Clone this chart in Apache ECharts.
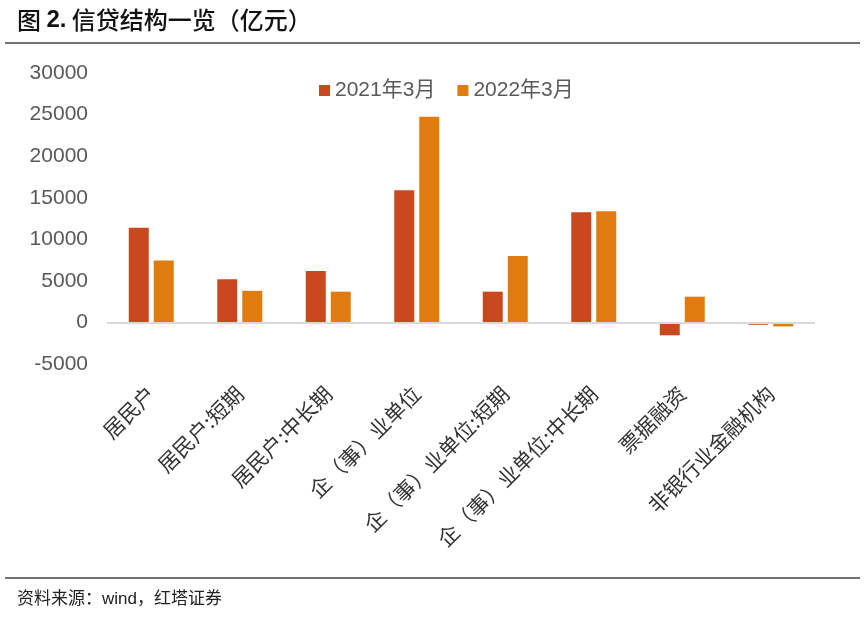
<!DOCTYPE html>
<html><head><meta charset="utf-8">
<script src="https://cdn.jsdelivr.net/npm/echarts@6/dist/echarts.min.js"></script>
<style>html,body{margin:0;padding:0;background:#fff}#c{width:865px;height:625px}</style>
</head><body><div id="c"></div>
<script>
var categories = ['居民户','居民户:短期','居民户:中长期','企（事）业单位','企（事）业单位:短期','企（事）业单位:中长期','票据融资','非银行业金融机构'];
var seriesNames = ['2021年3月','2022年3月'];
var values2021 = [11400, 5200, 6200, 15900, 3700, 13250, -1550, -280];
var values2022 = [7450, 3800, 3700, 24750, 8000, 13380, 3100, -480];
var yTicks = {min: -5000, max: 30000, interval: 5000};

var chart = echarts.init(document.getElementById('c'));
var cjk = '"Liberation Sans", Arial, "Noto Sans CJK SC", sans-serif';
chart.setOption({
  animation: false,
  backgroundColor: '#fff',
  graphic: [
    {type:'text', left: 17, top: 8, style:{text:'{a|图 }{b|2.}{a| 信贷结构一览（亿元）}', rich:{
      a:{fontSize:24, fontFamily:'"Noto Sans CJK SC", sans-serif', fill:'#111', fontWeight:500},
      b:{fontSize:24, fontFamily:'"Liberation Sans", Arial, sans-serif', fill:'#111', fontWeight:'bold'}
    }}},
    {type:'line', shape:{x1:5, y1:43, x2:860, y2:43}, style:{stroke:'#444', lineWidth:1.5}},
    {type:'line', shape:{x1:5, y1:578, x2:860, y2:578}, style:{stroke:'#444', lineWidth:1.5}},
    {type:'text', left: 17, top: 591, style:{text:'资料来源：wind，红塔证券', fontSize:17, fontFamily:cjk, fill:'#222'}}
  ],
  legend: {
    data: seriesNames, left: 314, top: 75, icon: 'rect', itemWidth: 11, itemHeight: 11, itemGap: 22,
    textStyle: {fontSize: 21, color: '#595959', fontFamily: cjk}
  },
  grid: {left: 107, right: 50, top: 73, bottom: 261},
  xAxis: {
    type: 'category', data: categories,
    axisLine: {show: false, onZero: false}, axisTick: {show: false},
    axisLabel: {rotate: 45, interval: 0, margin: 26, fontSize: 21, color: '#333', fontFamily: '"Noto Sans CJK SC", sans-serif'}
  },
  yAxis: {
    type: 'value', min: yTicks.min, max: yTicks.max, interval: yTicks.interval,
    axisLine: {show: false}, axisTick: {show: false}, splitLine: {show: false},
    axisLabel: {fontSize: 21, color: '#595959', margin: 19, fontFamily: cjk, formatter: function(v){return String(v);}}
  },
  series: [
    {name: seriesNames[0], type: 'bar', data: values2021, barWidth: 20, barGap: '25%',
     itemStyle: {color: '#C9481E'},
     markLine: {silent: true, symbol: 'none', label: {show: false}, data: [{yAxis: 0}],
       lineStyle: {color: '#d9d9d9', width: 2, type: 'solid'}}},
    {name: seriesNames[1], type: 'bar', data: values2022, barWidth: 20, barGap: '25%',
     itemStyle: {color: '#E07C0E'}}
  ]
});
</script></body></html>
